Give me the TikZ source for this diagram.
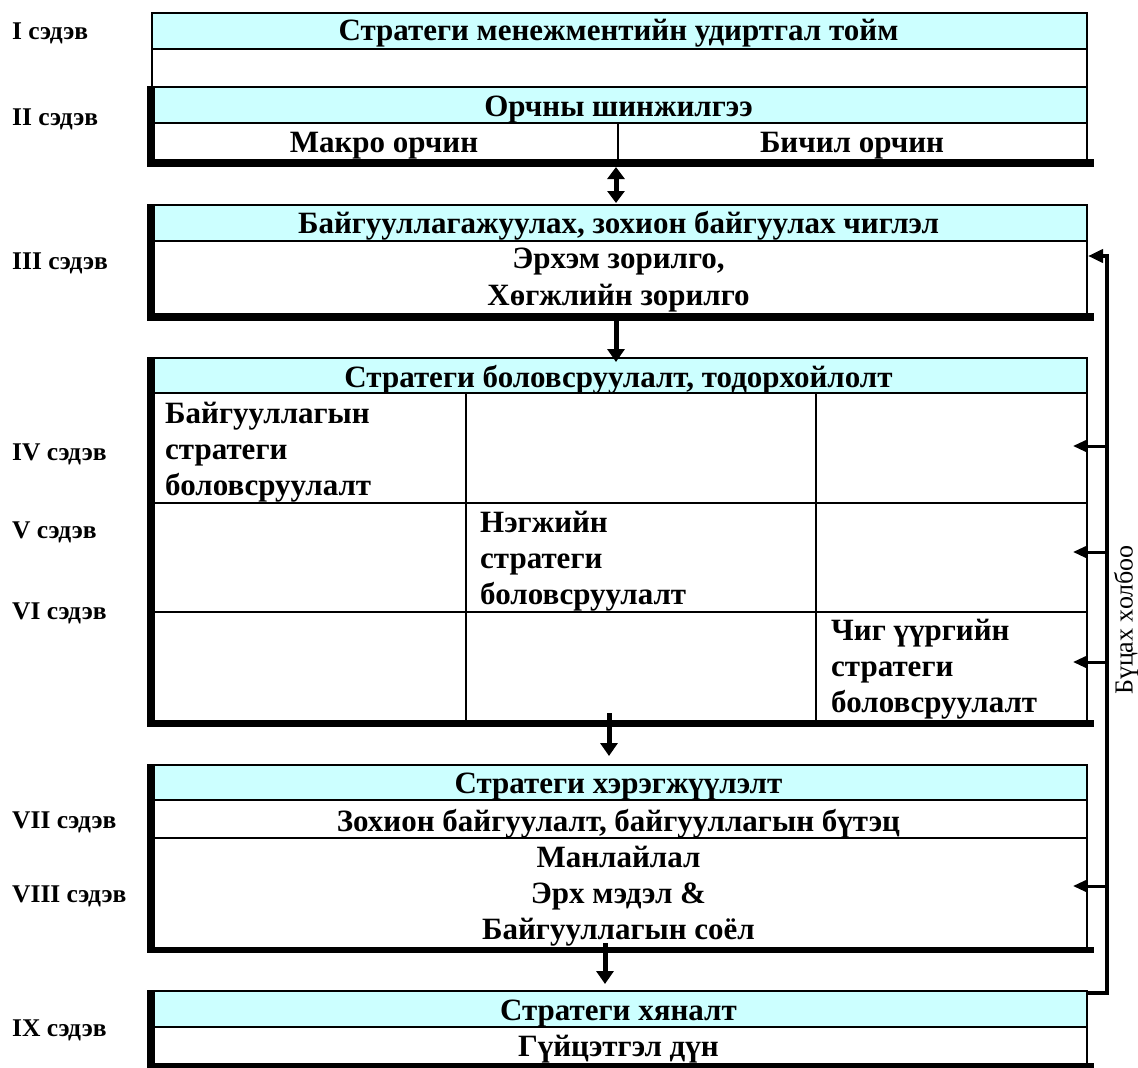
\documentclass[tikz,border=0pt]{standalone}
\usepackage{fontspec}
\setmainfont{Liberation Serif}
\usetikzlibrary{arrows.meta}
\definecolor{hdrcyan}{HTML}{CCFFFF}
\begin{document}
\begin{tikzpicture}[x=1pt,y=-1pt,
  frame/.style={draw, line width=2pt, anchor=north west, inner sep=0, minimum width=935pt},
  gridline/.style={line width=2pt},
  hdr/.style={fill=hdrcyan},
  shadowbar/.style={fill=black},
  ctxt/.style={font=\fontsize{31}{36}\selectfont\bfseries, anchor=base, inner sep=0},
  ltxt/.style={font=\fontsize{31}{36}\selectfont\bfseries, anchor=base west, inner sep=0},
  lbl/.style={font=\fontsize{25.5}{28}\selectfont\bfseries, anchor=base west, inner sep=0},
  downarr/.style={line width=5pt, -{Triangle[length=13pt,width=17pt]}},
  dblarr/.style={line width=5pt, {Triangle[length=12pt,width=17pt]}-{Triangle[length=12pt,width=17pt]}},
  fbline/.style={line width=4pt, -{Triangle[length=15pt,width=13pt]}},
  fbarr/.style={line width=3pt, -{Triangle[length=14pt,width=12pt]}}
]
\useasboundingbox (0,0) rectangle (1138,1068);
\fill[white] (0,0) rectangle (1138,1068);

% ---------- Box 1
\fill[hdr] (151,12) rectangle (1086,49);
\node[frame, minimum height=74pt] (b1) at (151,12) {};
\draw[gridline] (151,49) -- (1086,49);
\node[ctxt] (t1) at (618.5,40) {Стратеги менежментийн удиртгал тойм};

% ---------- Box 2
\fill[hdr] (151,86) rectangle (1086,123);
\node[frame, minimum height=73pt] (b2) at (151,86) {};
\draw[gridline] (151,123) -- (1086,123);
\draw[gridline] (618,123) -- (618,159);
\fill[shadowbar] (147,86) rectangle (155,167);
\fill[shadowbar] (147,159) rectangle (1094,167);
\node[ctxt] (t2) at (618.5,116) {Орчны шинжилгээ};
\node[ctxt] (t2a) at (384,152) {Макро орчин};
\node[ctxt] (t2b) at (852,152) {Бичил орчин};

% ---------- Box 3
\fill[hdr] (151,204) rectangle (1086,241);
\node[frame, minimum height=109pt] (b3) at (151,204) {};
\draw[gridline] (151,241) -- (1086,241);
\fill[shadowbar] (147,204) rectangle (155,321);
\fill[shadowbar] (147,313) rectangle (1094,321);
\node[ctxt] (t3) at (618.5,233) {Байгууллагажуулах, зохион байгуулах чиглэл};
\node[ctxt] (t3a) at (618.5,268) {Эрхэм зорилго,};
\node[ctxt] (t3b) at (618.5,305) {Хөгжлийн зорилго};

% ---------- Box 4
\fill[hdr] (151,357) rectangle (1086,393);
\node[frame, minimum height=363pt] (b4) at (151,357) {};
\draw[gridline] (151,393) -- (1086,393);
\draw[gridline] (151,503) -- (1086,503);
\draw[gridline] (151,612) -- (1086,612);
\draw[gridline] (466,393) -- (466,720);
\draw[gridline] (816,393) -- (816,720);
\fill[shadowbar] (147,357) rectangle (155,727);
\fill[shadowbar] (147,720) rectangle (1094,727);
\node[ctxt] (t4) at (618.5,387) {Стратеги боловсруулалт, тодорхойлолт};
\node[ltxt] (c1a) at (165,423) {Байгууллагын};
\node[ltxt] (c1b) at (165,459) {стратеги};
\node[ltxt] (c1c) at (165,495) {боловсруулалт};
\node[ltxt] (c2a) at (480,532) {Нэгжийн};
\node[ltxt] (c2b) at (480,568) {стратеги};
\node[ltxt] (c2c) at (480,604) {боловсруулалт};
\node[ltxt] (c3a) at (831,640) {Чиг үүргийн};
\node[ltxt] (c3b) at (831,676) {стратеги};
\node[ltxt] (c3c) at (831,712) {боловсруулалт};

% ---------- Box 5
\fill[hdr] (151,764) rectangle (1086,800);
\node[frame, minimum height=183pt] (b5) at (151,764) {};
\draw[gridline] (151,800) -- (1086,800);
\draw[gridline] (151,838) -- (1086,838);
\fill[shadowbar] (147,764) rectangle (155,953);
\fill[shadowbar] (147,947) rectangle (1094,953);
\node[ctxt] (t5) at (618.5,793) {Стратеги хэрэгжүүлэлт};
\node[ctxt] (t5a) at (618.5,831) {Зохион байгуулалт, байгууллагын бүтэц};
\node[ctxt] (t5b) at (618.5,867) {Манлайлал};
\node[ctxt] (t5c) at (618.5,903) {Эрх мэдэл \&};
\node[ctxt] (t5d) at (618.5,939) {Байгууллагын соёл};

% ---------- Box 6
\fill[hdr] (151,990) rectangle (1086,1027);
\node[frame, minimum height=73pt] (b6) at (151,990) {};
\draw[gridline] (151,1027) -- (1086,1027);
\fill[shadowbar] (147,990) rectangle (155,1070);
\fill[shadowbar] (147,1063) rectangle (1094,1070);
\node[ctxt] (t6) at (618.5,1020) {Стратеги хяналт};
\node[ctxt] (t6a) at (618.5,1056) {Гүйцэтгэл дүн};

% ---------- Left labels
\node[lbl] (l1) at (12,39) {I сэдэв};
\node[lbl] (l2) at (12,125) {II сэдэв};
\node[lbl] (l3) at (12,269) {III сэдэв};
\node[lbl] (l4) at (12,460) {IV сэдэв};
\node[lbl] (l5) at (12,538) {V сэдэв};
\node[lbl] (l6) at (12,619) {VI сэдэв};
\node[lbl] (l7) at (12,828) {VII сэдэв};
\node[lbl] (l8) at (12,902) {VIII сэдэв};
\node[lbl] (l9) at (12,1036) {IX сэдэв};

% ---------- Down arrows
\coordinate (a1s) at (616,167); \coordinate (a1e) at (616,203);
\coordinate (a2s) at (616,321); \coordinate (a2e) at (616,362);
\coordinate (a3s) at (609,713); \coordinate (a3e) at (609,756);
\coordinate (a4s) at (605,943); \coordinate (a4e) at (605,984);
\draw[dblarr] (a1s) -- (a1e);
\draw[downarr] (a2s) -- (a2e);
\draw[downarr] (a3s) -- (a3e);
\draw[downarr] (a4s) -- (a4e);

% ---------- Feedback loop
\coordinate (fbS) at (1086,993);
\coordinate (fbC1) at (1107,993);
\coordinate (fbC2) at (1107,256);
\coordinate (fbT) at (1088,256);
\draw[fbline, line join=miter] (fbS) -- (fbC1) -- (fbC2) -- (fbT);
\draw[fbarr] (1107,446) -- (1073,446);
\draw[fbarr] (1107,552) -- (1073,552);
\draw[fbarr] (1107,662) -- (1073,662);
\draw[fbarr] (1107,886) -- (1073,886);
\node[rotate=90, font=\fontsize{26}{28}\selectfont, inner sep=0] (fbtxt) at (1126,620) {Бүцах холбоо};
\end{tikzpicture}
\end{document}
